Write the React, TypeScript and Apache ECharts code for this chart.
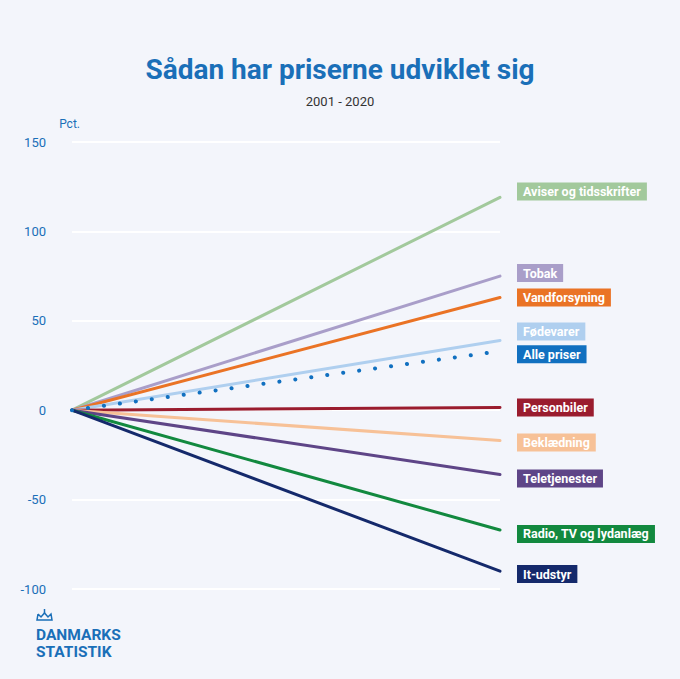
import { useEffect, useRef } from 'react'
import * as echarts from 'echarts'

const years = ['2001', '2020']
const names = ['Aviser og tidsskrifter', 'Tobak', 'Vandforsyning', 'Fødevarer', 'Alle priser', 'Personbiler', 'Beklædning', 'Teletjenester', 'Radio, TV og lydanlæg', 'It-udstyr']
const endValues = [119, 75, 63, 39, 33, 1.5, -17, -36, -67, -90]
const colors = ['#a2c99c', '#a99ec9', '#ea7325', '#afcfef', '#1170c0', '#9a1c2e', '#f7c197', '#5e4587', '#12893f', '#14296b']
const labelShift = [-6, -3, 0, -9, 3, 0, 2, 4, 4, 3]

export default function App() {
  const ref = useRef<HTMLDivElement>(null)

  useEffect(() => {
    if (!ref.current) return
    const chart = echarts.init(ref.current, null, { renderer: 'svg' })
    const blue = '#1a6fb8'
    chart.setOption({
      animation: false,
      backgroundColor: '#f3f5fb',
      title: [
        { text: 'Sådan har priserne udviklet sig', left: 'center', top: 50, textStyle: { color: blue, fontSize: 28, fontWeight: 'bold', fontFamily: 'Roboto' } },
        { text: '2001 - 2020', left: 'center', top: 90, textStyle: { color: '#333', fontSize: 13, fontWeight: 'normal', fontFamily: 'Roboto' } },
      ],
      grid: { left: 72, right: 180, top: 142, bottom: 90 },
      xAxis: { type: 'category', data: years, boundaryGap: false, show: false },
      yAxis: {
        type: 'value', min: -100, max: 150, interval: 50,
        name: 'Pct.', nameLocation: 'end', nameGap: 12, nameTextStyle: { color: blue, fontSize: 12, align: 'right', padding: [0, -8, 0, 0], fontFamily: 'Roboto' },
        axisLabel: { color: blue, fontSize: 13, margin: 26, fontFamily: 'Roboto' },
        axisLine: { show: false }, axisTick: { show: false },
        splitLine: { lineStyle: { color: '#ffffff', width: 2 } },
      },
      series: names.map((n, i) => ({
        name: n, type: 'line', data: [0, endValues[i]], symbol: 'none', z: i === 4 ? 5 : 2,
        lineStyle: { color: colors[i], width: i === 4 ? 4 : 3, type: i === 4 ? [0.1, 16] : 'solid', cap: 'round' },
        endLabel: {
          show: true, formatter: n, distance: 17, offset: [0, labelShift[i]],
          backgroundColor: colors[i], color: '#fff', fontWeight: 'bold', fontSize: 12.5, fontFamily: 'Roboto',
          padding: [3, 6, 2, 6],
        },
      })),
      graphic: [
        { type: 'polyline', shape: { points: [[38, 614], [37, 620], [52, 620], [51, 614], [48, 617], [44.5, 613], [41, 617], [38, 614]] }, style: { fill: 'none', stroke: blue, lineWidth: 1.5 } },
        { type: 'line', shape: { x1: 44.5, y1: 609, x2: 44.5, y2: 613 }, style: { stroke: blue, lineWidth: 1.5 } },
        { type: 'text', x: 36, y: 626, style: { text: 'DANMARKS\nSTATISTIK', fill: blue, font: 'bold 15.5px Roboto', lineHeight: 17 } },
      ],
    })
    return () => chart.dispose()
  }, [])

  return <div ref={ref} style={{ width: 680, height: 679, position: 'absolute', left: 0, top: 0 }} />
}
